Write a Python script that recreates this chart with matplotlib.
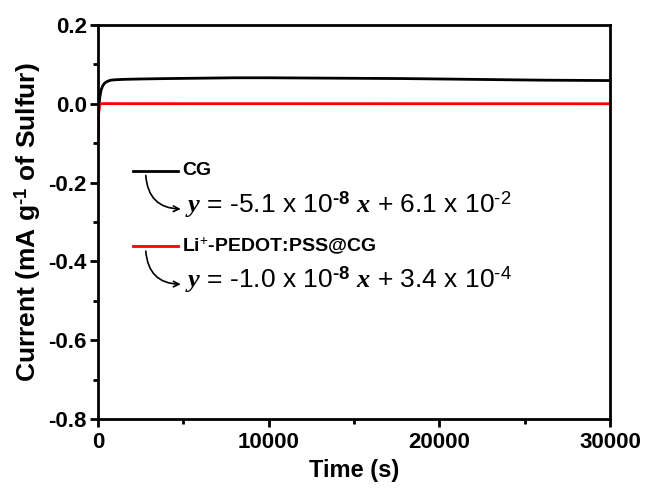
import matplotlib.pyplot as plt

# data
t_cg = [0, 40, 100, 180, 280, 400, 550, 750, 1000, 1500, 2500, 4000, 6000, 8000, 10000, 14000, 18000, 22000, 26000, 30000]
i_cg = [-0.09, -0.02, 0.015, 0.035, 0.046, 0.053, 0.057, 0.060, 0.061, 0.062, 0.063, 0.064, 0.065, 0.066, 0.066, 0.065, 0.064, 0.062, 0.060, 0.059]

t_li = [0, 30, 80, 150, 300, 1000, 5000, 10000, 20000, 30000]
i_li = [-0.085, -0.03, -0.005, 0.0, 0.0005, 0.0004, 0.0003, 0.0003, 0.0002, 0.0001]

labels = ["CG", "Li$^{+}$-PEDOT:PSS@CG"]
fits = ["$y$ = -5.1 x 10$^{\\mathbf{\u20108}}$ $x$ + 6.1 x 10$^{\u20102}$",
        "$y$ = -1.0 x 10$^{\\mathbf{\u20108}}$ $x$ + 3.4 x 10$^{\u20104}$"]
colors = ["black", "#ff0000"]

plt.rcParams['font.family'] = 'Liberation Sans'
plt.rcParams['mathtext.fontset'] = 'custom'
plt.rcParams['mathtext.rm'] = 'Liberation Sans'
plt.rcParams['mathtext.it'] = 'Liberation Serif:italic:bold'
plt.rcParams['mathtext.bf'] = 'Liberation Sans:bold'

fig = plt.figure(figsize=(6.45, 4.92), dpi=100)
ax = fig.add_axes([98 / 645, 1 - 419 / 492, 512 / 645, 394 / 492])

ax.plot(t_cg, i_cg, color=colors[0], lw=2)
ax.plot(t_li, i_li, color=colors[1], lw=2)

ax.set_xlim(0, 30000)
ax.set_ylim(-0.8, 0.2)
ax.set_xticks([0, 10000, 20000, 30000])
ax.set_xticks([5000, 15000, 25000], minor=True)
ax.set_yticks([-0.8, -0.6, -0.4, -0.2, 0.0, 0.2])
ax.set_yticks([-0.7, -0.5, -0.3, -0.1, 0.1], minor=True)
ax.set_yticklabels(["-0.8", "-0.6", "-0.4", "-0.2", "0.0", "0.2"])
ax.tick_params(which='major', direction='out', length=6, width=2, labelsize=16, top=False, right=False)
ax.tick_params(which='minor', direction='out', length=3.5, width=2, top=False, right=False)
ax.tick_params(axis='y', pad=2)
for lab in ax.get_xticklabels() + ax.get_yticklabels():
    lab.set_fontweight('bold')
for s in ax.spines.values():
    s.set_linewidth(2)

ax.set_xlabel("Time (s)", fontsize=17, fontweight='bold', labelpad=4)
ax.set_ylabel("Current (mA g$^{\\mathbf{\u20101}}$ of Sulfur)", fontsize=19, fontweight='bold', labelpad=4)

# legend-like annotations with fit equations
line_y = [-0.170, -0.362]
eq_y = [-0.255, -0.446]
for k in range(2):
    ax.plot([2050, 4690], [line_y[k], line_y[k]], color=colors[k], lw=2)
    ax.text(4950, line_y[k], labels[k], fontsize=14, fontweight='bold', va='center')
    ax.text(5100, eq_y[k], fits[k], fontsize=19, va='center')
    ax.annotate("", xy=(4850, eq_y[k] - 0.012), xytext=(2800, line_y[k] - 0.012),
                arrowprops=dict(arrowstyle='->', color='black', lw=1.2,
                                connectionstyle="arc3,rad=0.45", shrinkA=0, shrinkB=0))

fig.savefig("out.png", dpi=100)
